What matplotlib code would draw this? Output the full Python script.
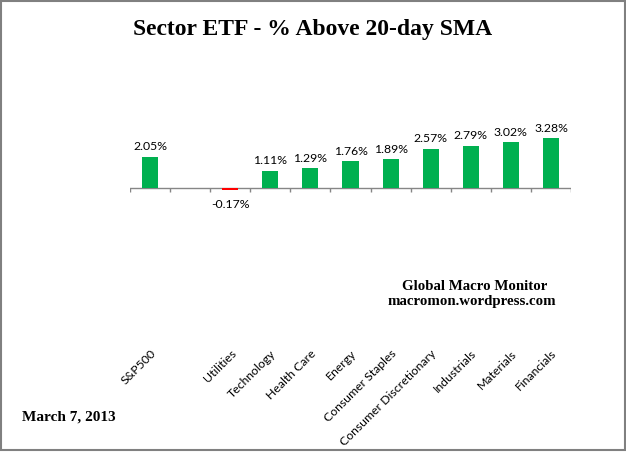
import matplotlib.pyplot as plt
from matplotlib.patches import Rectangle

# sectors (blank slot after S&P500, as in the original)
sectors = ['S&P500', '', 'Utilities', 'Technology', 'Health Care', 'Energy',
           'Consumer Staples', 'Consumer Discretionary', 'Industrials',
           'Materials', 'Financials']
pct_above = [2.05, None, -0.17, 1.11, 1.29, 1.76, 1.89, 2.57, 2.79, 3.02, 3.28]

W, H = 626, 455
fig = plt.figure(figsize=(W / 100, H / 100), dpi=100)

# outer gray frame
fig.patches.append(Rectangle((0.5 / W, 1 - 450 / H), 624 / W, 449.5 / H,
                             transform=fig.transFigure, fill=False,
                             edgecolor='#808080', linewidth=1.5))

# plot area: x 130..571 px, y 120..345 px
ax = fig.add_axes([130 / W, 1 - 345 / H, 441 / W, 225 / H])
ax.set_xlim(-0.5, len(sectors) - 0.5)
ax.set_ylim(-10.4, 4.48)

xs = [i for i, v in enumerate(pct_above) if v is not None]
vals = [v for v in pct_above if v is not None]
colors = ['#00B050' if v >= 0 else '#FF0000' for v in vals]
ax.bar(xs, vals, width=0.4, color=colors, zorder=2)

for x, v in zip(xs, vals):
    if v >= 0:
        ax.text(x, v + 0.3, f'{v:.2f}%', ha='center', va='bottom',
                fontsize=8.8, family='Lato')
    else:
        ax.text(x, v - 0.55, f'{v:.2f}%', ha='center', va='top',
                fontsize=8.8, family='Lato')

# category axis at zero with tick marks between categories
ax.axhline(0, color='#868686', linewidth=1, zorder=1)
ax.vlines([i - 0.5 for i in range(len(sectors) + 1)], 0, -0.3,
          color='#868686', linewidth=1)

ax.set_xticks(range(len(sectors)))
ax.set_xticklabels(sectors, rotation=45, ha='right', rotation_mode='anchor',
                   fontsize=8.8, family='Lato')
ax.tick_params(axis='x', length=0, pad=2)
ax.set_yticks([])
for s in ax.spines.values():
    s.set_visible(False)

fig.text(0.5, 1 - 30 / H, 'Sector ETF - % Above 20-day SMA', ha='center',
         va='center', fontsize=17, fontweight='bold', family='Liberation Serif')
fig.text(475 / W, 1 - 286 / H, 'Global Macro Monitor', ha='center',
         va='center', fontsize=10.7, fontweight='bold', family='Liberation Serif')
fig.text(472 / W, 1 - 302 / H, 'macromon.wordpress.com', ha='center',
         va='center', fontsize=10.7, fontweight='bold', family='Liberation Serif')
fig.text(22 / W, 1 - 417 / H, 'March 7, 2013', ha='left', va='center',
         fontsize=11, fontweight='bold', family='Liberation Serif')

fig.savefig('out.png', dpi=100)
